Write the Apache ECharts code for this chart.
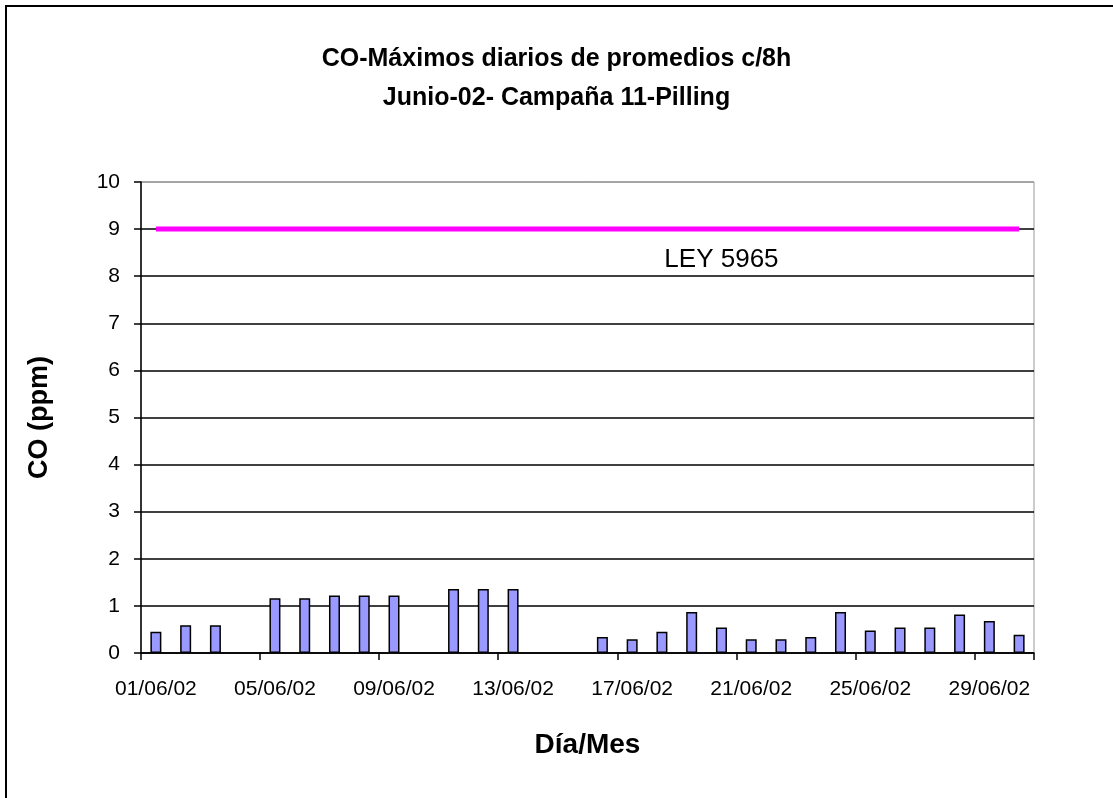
<!DOCTYPE html>
<html>
<head>
<meta charset="utf-8">
<script src="https://cdn.jsdelivr.net/npm/echarts@6/dist/echarts.min.js"></script>
<style>
  html, body { margin: 0; padding: 0; background: #fff; }
  #chart { width: 1113px; height: 798px; }
</style>
</head>
<body>
<div id="chart"></div>
<script>
const categories = [
  '01/06/02','02/06/02','03/06/02','04/06/02','05/06/02','06/06/02','07/06/02','08/06/02','09/06/02','10/06/02',
  '11/06/02','12/06/02','13/06/02','14/06/02','15/06/02','16/06/02','17/06/02','18/06/02','19/06/02','20/06/02',
  '21/06/02','22/06/02','23/06/02','24/06/02','25/06/02','26/06/02','27/06/02','28/06/02','29/06/02','30/06/02'
];
const coValues = [
  0.45, 0.59, 0.59, null, 1.16, 1.16, 1.22, 1.22, 1.22, null,
  1.36, 1.36, 1.36, null, null, 0.34, 0.29, 0.45, 0.87, 0.54,
  0.29, 0.29, 0.34, 0.87, 0.48, 0.54, 0.54, 0.82, 0.68, 0.39
];
const leyValue = 9;
const leyLabel = 'LEY 5965';
const leyLabelIndex = 19;
const yTicks = { min: 0, max: 10, interval: 1 };
const titleLines = ['CO-Máximos diarios de promedios c/8h', 'Junio-02- Campaña 11-Pilling'];
const xName = 'Día/Mes';
const yName = 'CO (ppm)';

const leyData = categories.map((c, i) => i === leyLabelIndex
  ? { value: leyValue, label: { show: true, formatter: leyLabel } }
  : leyValue);

const chart = echarts.init(document.getElementById('chart'), null, { renderer: 'canvas' });
chart.setOption({
  animation: false,
  backgroundColor: '#fff',
  title: {
    text: titleLines.join('\n'),
    left: 'center',
    top: 35,
    textStyle: {
      fontFamily: '"Liberation Sans Narrow", "Arial Narrow", "Liberation Sans", sans-serif',
      fontWeight: 'bold',
      fontSize: 25,
      lineHeight: 39,
      color: '#000'
    }
  },
  graphic: [{
    type: 'rect',
    shape: { x: 6, y: 6, width: 1300, height: 1000 },
    style: { fill: 'none', stroke: '#000', lineWidth: 2 },
    silent: true
  }],
  grid: {
    left: 141, right: 79, top: 182, bottom: 145,
    show: true, borderColor: '#999', borderWidth: 1, backgroundColor: 'transparent'
  },
  xAxis: {
    type: 'category',
    data: categories,
    boundaryGap: true,
    name: xName,
    nameLocation: 'middle',
    nameGap: 78,
    nameTextStyle: { fontFamily: '"Liberation Sans", Arial, sans-serif', fontWeight: 'bold', fontSize: 28, color: '#000' },
    axisLine: { lineStyle: { color: '#000', width: 1.5 } },
    axisTick: { show: true, interval: 3, length: 7, inside: false, lineStyle: { color: '#000', width: 1.5 } },
    axisLabel: { interval: 3, margin: 26, fontFamily: '"Liberation Sans", Arial, sans-serif', fontSize: 21, color: '#000' },
    splitLine: { show: false }
  },
  yAxis: {
    type: 'value',
    min: yTicks.min, max: yTicks.max, interval: yTicks.interval,
    name: yName,
    nameLocation: 'middle',
    nameGap: 88,
    nameRotate: 90,
    nameTextStyle: { fontFamily: '"Liberation Sans", Arial, sans-serif', fontWeight: 'bold', fontSize: 27, color: '#000' },
    axisLine: { show: true, lineStyle: { color: '#000', width: 1.5 } },
    axisTick: { show: true, length: 7, lineStyle: { color: '#000', width: 1.5 } },
    axisLabel: { margin: 21, fontFamily: '"Liberation Sans", Arial, sans-serif', fontSize: 21, color: '#000' },
    splitLine: { show: true, lineStyle: { color: ['#000','#000','#000','#000','#000','#000','#000','#000','#000','#000','#999'], width: 1.5 } }
  },
  series: [
    {
      type: 'bar',
      data: coValues,
      barWidth: 11,
      itemStyle: { color: '#9999ff', borderColor: '#000', borderWidth: 1.5 },
      z: 3
    },
    {
      type: 'line',
      data: leyData,
      showSymbol: true,
      symbol: 'circle',
      symbolSize: 0,
      lineStyle: { color: '#ff00ff', width: 5 },
      itemStyle: { color: '#ff00ff' },
      label: {
        show: false,
        position: 'bottom',
        distance: 18,
        fontFamily: '"Liberation Sans", Arial, sans-serif',
        fontSize: 26,
        color: '#000'
      },
      z: 4
    }
  ]
});
</script>
</body>
</html>
